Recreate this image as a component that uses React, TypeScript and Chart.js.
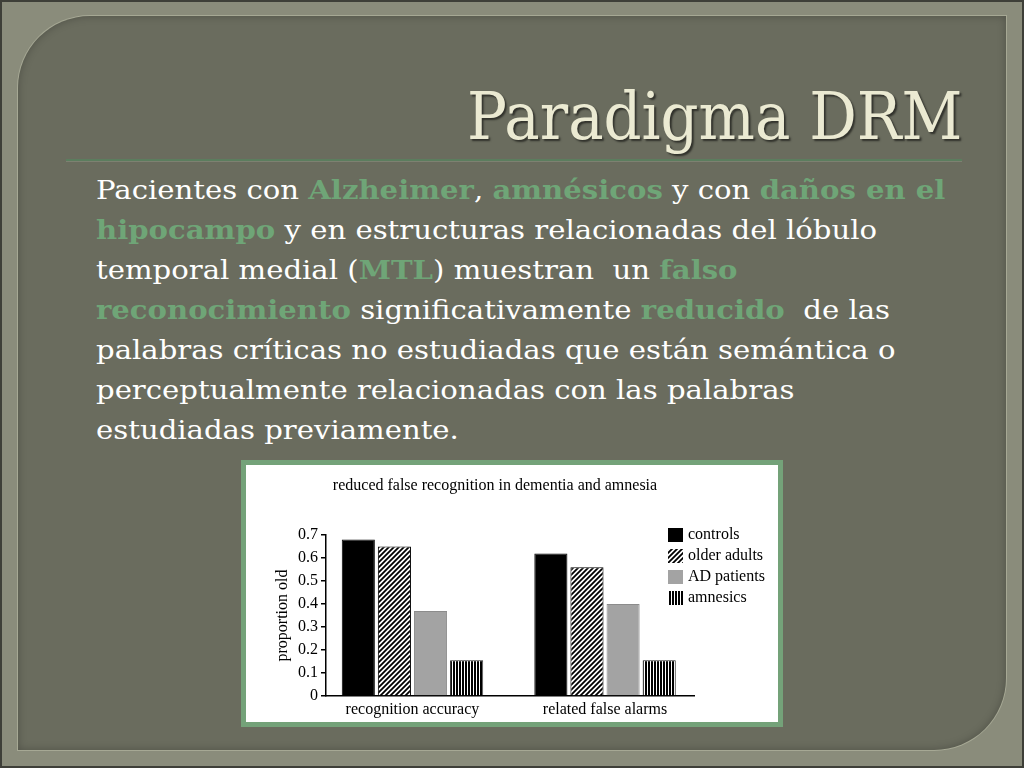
import React, { useEffect, useRef } from "react";
import { Chart, registerables } from "chart.js";

Chart.register(...registerables);

// ---- data ----
const categories = ["recognition accuracy", "related false alarms"];
const seriesNames = ["controls", "older adults", "AD patients", "amnesics"];
const controls = [0.68, 0.62];
const olderAdults = [0.65, 0.56];
const adPatients = [0.37, 0.4];
const amnesics = [0.155, 0.155];
const yTickValues = [0, 0.1, 0.2, 0.3, 0.4, 0.5, 0.6, 0.7];
const chartTitle = "reduced false recognition in dementia and amnesia";
const yAxisTitle = "proportion old";

const SERIF = "'Liberation Serif', 'Times New Roman', serif";
const SLAB = "'DejaVu Serif', serif";
const GREEN = "#6fa577";

function makeHatch(): CanvasPattern | string {
  const c = document.createElement("canvas");
  c.width = 5;
  c.height = 5;
  const ctx = c.getContext("2d");
  if (!ctx) return "#777";
  ctx.fillStyle = "#fff";
  ctx.fillRect(0, 0, 5, 5);
  ctx.strokeStyle = "#000";
  ctx.lineWidth = 1.8;
  ctx.beginPath();
  ctx.moveTo(-1, 6);
  ctx.lineTo(6, -1);
  ctx.moveTo(-1, 1);
  ctx.lineTo(1, -1);
  ctx.moveTo(4, 6);
  ctx.lineTo(6, 4);
  ctx.stroke();
  return ctx.createPattern(c, "repeat") || "#777";
}

function makeStripes(): CanvasPattern | string {
  const c = document.createElement("canvas");
  c.width = 3;
  c.height = 2;
  const ctx = c.getContext("2d");
  if (!ctx) return "#444";
  ctx.fillStyle = "#fff";
  ctx.fillRect(0, 0, 3, 2);
  ctx.fillStyle = "#000";
  ctx.fillRect(0, 0, 2, 2);
  return ctx.createPattern(c, "repeat") || "#444";
}

const overlayPlugin = {
  id: "overlay",
  afterDraw(chart: any) {
    const ctx = chart.ctx as CanvasRenderingContext2D;
    const { left, right, top } = chart.chartArea;
    ctx.save();
    // title
    ctx.fillStyle = "#000";
    ctx.font = `16px ${SERIF}`;
    ctx.textAlign = "center";
    ctx.textBaseline = "middle";
    ctx.fillText(chartTitle, (left + right) / 2 - 15, 21);
    // legend
    ctx.textAlign = "left";
    ctx.font = `16px ${SERIF}`;
    chart.data.datasets.forEach((ds: any, i: number) => {
      const x = right - 26;
      const y = top + i * 21;
      ctx.fillStyle = ds.backgroundColor;
      ctx.fillRect(x, y - 7, 15, 14);
      ctx.fillStyle = "#000";
      ctx.fillText(ds.label, right - 6, y);
    });
    ctx.restore();
  },
};

function BarChart() {
  const ref = useRef<HTMLCanvasElement | null>(null);
  useEffect(() => {
    if (!ref.current) return;
    const values = [controls, olderAdults, adPatients, amnesics];
    const fills = ["#000000", makeHatch(), "#a3a3a3", makeStripes()];
    const borders = ["#000000", "#000000", "#8c8c8c", "#222222"];
    const chart = new Chart(ref.current, {
      type: "bar",
      data: {
        datasets: values.map((arr, s) => ({
          label: seriesNames[s],
          data: arr.map((v, i) => ({ x: i, y: v })),
          backgroundColor: fills[s] as any,
          borderColor: borders[s],
          borderWidth: 1,
          categoryPercentage: 0.75,
          barPercentage: 0.917,
        })),
      },
      options: {
        animation: false,
        responsive: false,
        devicePixelRatio: 1,
        layout: { padding: { top: 70, right: 84, left: 0, bottom: 0 } },
        plugins: {
          legend: { display: false },
          title: { display: false },
          tooltip: { enabled: false },
        },
        scales: {
          x: {
            type: "linear",
            offset: false,
            min: -0.449,
            max: 1.462,
            afterFit: (scale: any) => {
              scale.height = 26;
            },
            afterBuildTicks: (scale: any) => {
              scale.ticks = categories.map((_, i) => ({ value: i }));
            },
            grid: { display: false, drawTicks: false, offset: false },
            border: { display: true, color: "#000", width: 1.5 },
            ticks: {
              autoSkip: false,
              maxRotation: 0,
              padding: 4,
              color: "#000",
              font: { family: SERIF, size: 16 },
              callback: (v: any) => categories[v as number] ?? "",
            },
          },
          y: {
            min: 0,
            max: 0.7,
            afterFit: (scale: any) => {
              scale.width = 80;
            },
            afterBuildTicks: (scale: any) => {
              scale.ticks = yTickValues.map((v) => ({ value: v }));
            },
            grid: {
              display: true,
              drawOnChartArea: false,
              drawTicks: true,
              tickLength: 5,
              color: "#000",
              lineWidth: 1.5,
            },
            border: { display: true, color: "#000", width: 1.5 },
            ticks: {
              padding: 3,
              color: "#000",
              font: { family: SERIF, size: 16 },
              callback: (v: any) => (v === 0 ? "0" : Number(v).toFixed(1)),
            },
            title: {
              display: true,
              text: yAxisTitle,
              color: "#000",
              font: { family: SERIF, size: 16 },
              padding: { top: 27, bottom: 0 },
            },
          },
        },
      },
      plugins: [overlayPlugin],
    } as any);
    return () => chart.destroy();
  }, []);
  return <canvas ref={ref} width={532} height={257} style={{ width: 532, height: 257, display: "block" }} />;
}

const G = ({ children }: { children: React.ReactNode }) => (
  <span style={{ color: GREEN, fontWeight: "bold" }}>{children}</span>
);

export default function App() {
  return (
    <div
      style={{
        position: "fixed",
        left: 0,
        top: 0,
        width: 1024,
        height: 768,
        background: "#8a8c7b",
        border: "2px solid #3e3f38",
        boxSizing: "border-box",
        overflow: "hidden",
      }}
    >
      <div
        style={{
          position: "absolute",
          left: 16,
          top: 14,
          width: 988,
          height: 734,
          background: "#6a6c5e",
          borderTopLeftRadius: 72,
          borderBottomRightRadius: 72,
          boxShadow: "inset 0 0 8px rgba(0,0,0,0.25), 0 0 0 1px rgba(200,202,180,0.45)",
        }}
      />
      <div
        style={{
          position: "absolute",
          right: 60,
          top: 82,
          fontFamily: SLAB,
          fontSize: 66,
          lineHeight: "66px",
          color: "#ebead2",
          whiteSpace: "nowrap",
          textShadow: "2px 2px 2px rgba(0,0,0,0.55)",
          transform: "scaleX(0.9)",
          transformOrigin: "right center",
        }}
      >
        Paradigma DRM
      </div>
      <div
        style={{
          position: "absolute",
          left: 64,
          top: 157,
          width: 896,
          height: 2,
          background: "#5b7d5e",
          boxShadow: "0 1px 0 rgba(160,170,150,0.35)",
        }}
      />
      <div
        style={{
          position: "absolute",
          left: 94,
          top: 168,
          fontFamily: SLAB,
          fontSize: 26,
          lineHeight: "40px",
          color: "#ffffff",
          whiteSpace: "pre",
          transform: "scaleX(1.12)",
          transformOrigin: "left top",
        }}
      >
        <div>
          Pacientes con <G>Alzheimer</G>, <G>amnésicos</G> y con <G>daños en el</G>
        </div>
        <div>
          <G>hipocampo</G> y en estructuras relacionadas del lóbulo
        </div>
        <div>
          temporal medial (<G>MTL</G>) muestran  un <G>falso</G>
        </div>
        <div>
          <G>reconocimiento</G> significativamente <G>reducido</G>  de las
        </div>
        <div>palabras críticas no estudiadas que están semántica o</div>
        <div>perceptualmente relacionadas con las palabras</div>
        <div>estudiadas previamente.</div>
      </div>
      <div
        style={{
          position: "absolute",
          left: 239,
          top: 458,
          width: 542,
          height: 267,
          border: "5px solid #74a279",
          boxSizing: "border-box",
          background: "#ffffff",
        }}
      >
        <BarChart />
      </div>
    </div>
  );
}
